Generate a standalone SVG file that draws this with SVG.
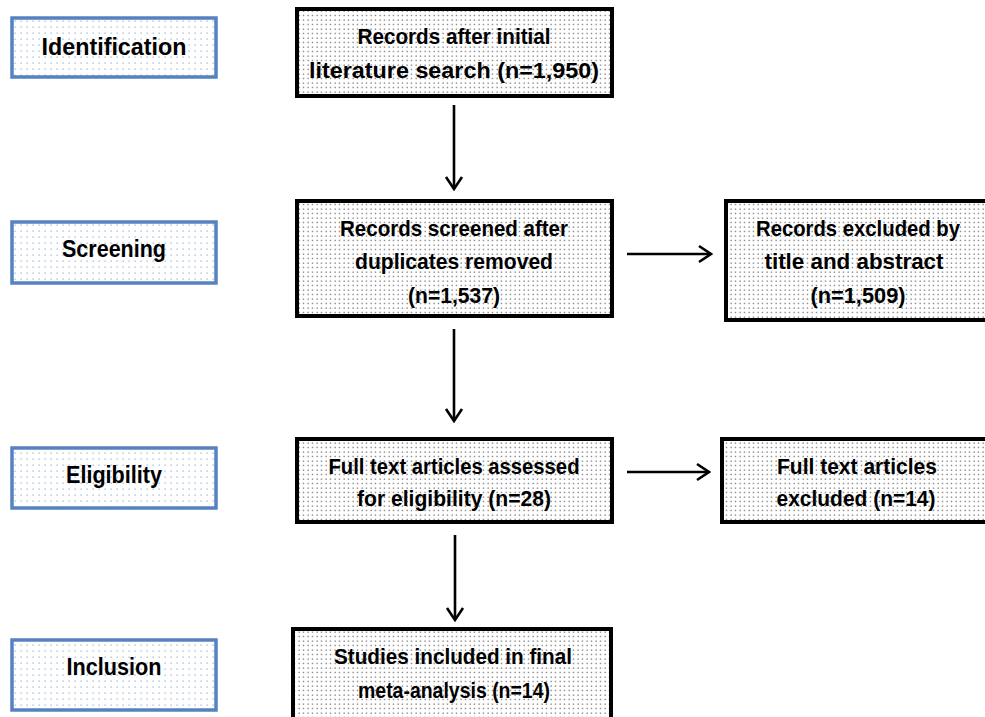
<svg xmlns="http://www.w3.org/2000/svg" width="985" height="717" viewBox="0 0 985 717">
<defs>
<pattern id="dotsK" width="4.5" height="4.5" patternUnits="userSpaceOnUse">
<rect x="1.5" y="1.5" width="1.2" height="1.2" fill="#555"/>
</pattern>
<pattern id="dotsB" width="6" height="6" patternUnits="userSpaceOnUse">
<rect x="2.5" y="2.5" width="1.3" height="1.3" fill="#9fb8da"/>
</pattern>
<marker id="arr" viewBox="0 0 20 20" refX="18" refY="10" markerWidth="20" markerHeight="20" markerUnits="userSpaceOnUse" orient="auto">
<path d="M6,2 L18,10 L6,18" fill="none" stroke="#000" stroke-width="2.6"/>
</marker>
<style>
.stage{fill:url(#dotsB);stroke:#5582c0;stroke-width:3.5}
.stagebg{fill:#fff;stroke:none}
.box{fill:url(#dotsK);stroke:#000;stroke-width:4}
.boxbg{fill:#fff;stroke:none}
.lbl{font-family:"Liberation Sans",Arial,sans-serif;font-weight:bold;font-size:24px;fill:#000;text-anchor:middle}
.txt{font-family:"Liberation Sans",Arial,sans-serif;font-weight:bold;font-size:22px;fill:#000;text-anchor:middle}
.con{stroke:#000;stroke-width:2.6;fill:none;marker-end:url(#arr)}
</style>
</defs>
<rect width="985" height="717" fill="#fff"/>

<g id="stage-identification">
<rect class="stagebg" x="12" y="18" width="204" height="59"/>
<rect class="stage" x="12" y="18" width="204" height="59"/>
<text class="lbl" x="114" y="55" textLength="145" lengthAdjust="spacingAndGlyphs">Identification</text>
</g>
<g id="stage-screening">
<rect class="stagebg" x="12" y="222" width="204" height="61"/>
<rect class="stage" x="12" y="222" width="204" height="61"/>
<text class="lbl" x="114" y="257" textLength="104" lengthAdjust="spacingAndGlyphs">Screening</text>
</g>
<g id="stage-eligibility">
<rect class="stagebg" x="12" y="448" width="204" height="60"/>
<rect class="stage" x="12" y="448" width="204" height="60"/>
<text class="lbl" x="114" y="483" textLength="96" lengthAdjust="spacingAndGlyphs">Eligibility</text>
</g>
<g id="stage-inclusion">
<rect class="stagebg" x="12" y="640" width="204" height="70"/>
<rect class="stage" x="12" y="640" width="204" height="70"/>
<text class="lbl" x="114" y="675" textLength="95" lengthAdjust="spacingAndGlyphs">Inclusion</text>
</g>

<g id="node-records-initial">
<rect class="boxbg" x="297" y="9" width="315" height="87"/>
<rect class="box" x="297" y="9" width="315" height="87"/>
<text class="txt" x="454" y="44" textLength="193" lengthAdjust="spacingAndGlyphs">Records after initial</text>
<text class="txt" x="454" y="78" textLength="290" lengthAdjust="spacingAndGlyphs">literature search (n=1,950)</text>
</g>
<g id="node-records-screened">
<rect class="boxbg" x="297" y="201" width="315" height="115"/>
<rect class="box" x="297" y="201" width="315" height="115"/>
<text class="txt" x="454" y="236" textLength="228" lengthAdjust="spacingAndGlyphs">Records screened after</text>
<text class="txt" x="454" y="269" textLength="198" lengthAdjust="spacingAndGlyphs">duplicates removed</text>
<text class="txt" x="454" y="303" textLength="92" lengthAdjust="spacingAndGlyphs">(n=1,537)</text>
</g>
<g id="node-excluded-title">
<rect class="boxbg" x="726" y="201" width="265" height="119"/>
<rect class="box" x="726" y="201" width="265" height="119"/>
<text class="txt" x="858" y="236" textLength="204" lengthAdjust="spacingAndGlyphs">Records excluded by</text>
<text class="txt" x="854" y="269" textLength="179" lengthAdjust="spacingAndGlyphs">title and abstract</text>
<text class="txt" x="858" y="303" textLength="95" lengthAdjust="spacingAndGlyphs">(n=1,509)</text>
</g>
<g id="node-fulltext-assessed">
<rect class="boxbg" x="297" y="439" width="315" height="83"/>
<rect class="box" x="297" y="439" width="315" height="83"/>
<text class="txt" x="454" y="474" textLength="251" lengthAdjust="spacingAndGlyphs">Full text articles assessed</text>
<text class="txt" x="454" y="506" textLength="194" lengthAdjust="spacingAndGlyphs">for eligibility (n=28)</text>
</g>
<g id="node-fulltext-excluded">
<rect class="boxbg" x="722" y="439" width="269" height="83"/>
<rect class="box" x="722" y="439" width="269" height="83"/>
<text class="txt" x="857" y="474" textLength="160" lengthAdjust="spacingAndGlyphs">Full text articles</text>
<text class="txt" x="856" y="506" textLength="159" lengthAdjust="spacingAndGlyphs">excluded (n=14)</text>
</g>
<g id="node-studies-included">
<rect class="boxbg" x="293" y="629" width="318" height="95"/>
<rect class="box" x="293" y="629" width="318" height="95"/>
<text class="txt" x="453" y="664" textLength="238" lengthAdjust="spacingAndGlyphs">Studies included in final</text>
<text class="txt" x="454" y="698" textLength="192" lengthAdjust="spacingAndGlyphs">meta-analysis (n=14)</text>
</g>

<g id="connectors">
<line class="con" x1="454" y1="105" x2="454" y2="189"/>
<line class="con" x1="454" y1="329" x2="454" y2="421"/>
<line class="con" x1="455" y1="535" x2="455" y2="620"/>
<line class="con" x1="627" y1="254" x2="711" y2="254"/>
<line class="con" x1="627" y1="472" x2="709" y2="472"/>
</g>
</svg>
